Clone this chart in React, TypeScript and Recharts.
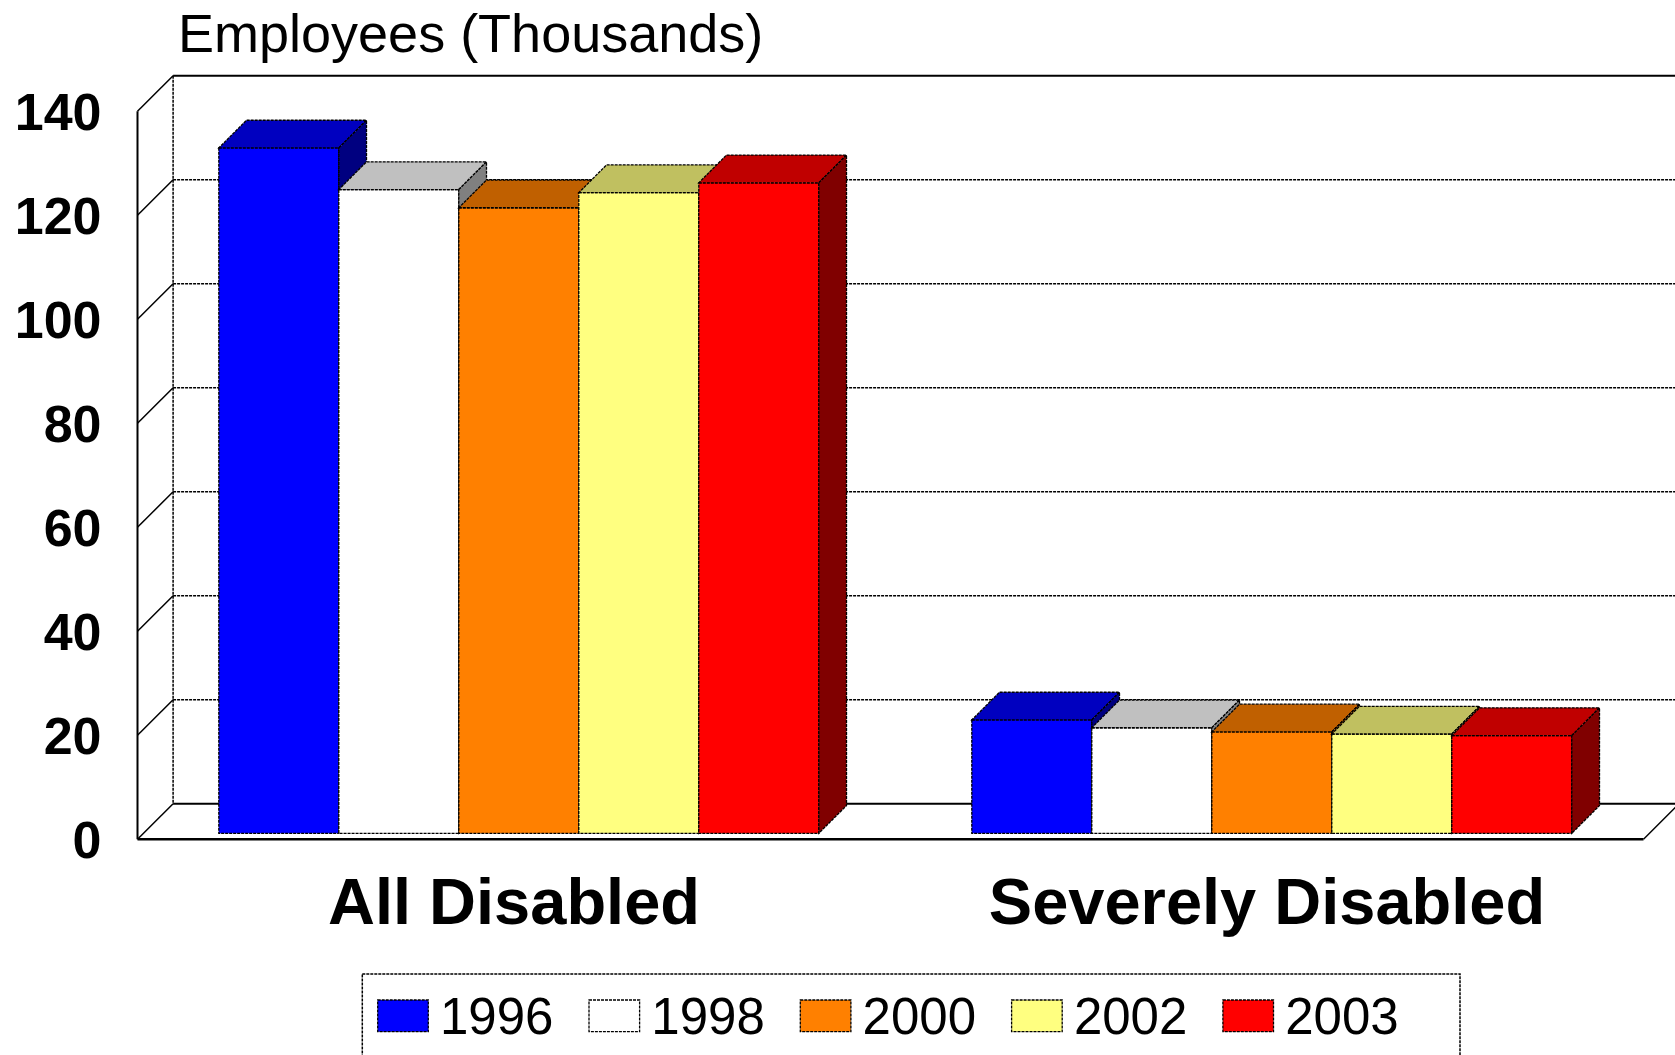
import React from 'react';
import { BarChart, Bar, XAxis, YAxis, CartesianGrid } from 'recharts';

// ---- data ----
const categories = ['All Disabled', 'Severely Disabled'];
const seriesNames = ['1996', '1998', '2000', '2002', '2003'];
const values1996 = [131.8, 21.8];
const values1998 = [123.8, 20.3];
const values2000 = [120.3, 19.5];
const values2002 = [123.2, 19.1];
const values2003 = [125.1, 18.8];
const yTicks = [0, 20, 40, 60, 80, 100, 120, 140];
const yAxisTitle = 'Employees (Thousands)';

const seriesValues = [values1996, values1998, values2000, values2002, values2003];
const seriesColors = [
  { front: '#0000FF', top: '#0000C0', side: '#000080' },
  { front: '#FFFFFF', top: '#C0C0C0', side: '#808080' },
  { front: '#FF8000', top: '#C06000', side: '#804000' },
  { front: '#FFFF80', top: '#C0C060', side: '#808040' },
  { front: '#FF0000', top: '#C00000', side: '#800000' },
];

const data = categories.map((c, i) => {
  const row: Record<string, string | number> = { category: c };
  seriesNames.forEach((s, k) => {
    row['y' + s] = seriesValues[k][i];
  });
  return row;
});

// ---- layout ----
const W = 1675;
const H = 1055;
const PLOT_LEFT = 143.5;
const PLOT_TOP = 105.3;
const PLOT_W = 1506;
const PLOT_H = 728;
const PLOT_BOTTOM = PLOT_TOP + PLOT_H;
const X_AXIS_H = 100;
const FRONT = 6; // offset of the front plane from the bars' plane
const BACK = 29.6; // offset of the back wall from the bars' plane
const BAR_DEPTH = 27.7;
const FONT = "'Liberation Sans', Arial, Helvetica, sans-serif";
const EDGE = { stroke: '#000', strokeWidth: 1.3, strokeDasharray: '3 1' };

const makeShape = (c: { front: string; top: string; side: string }) => (props: any) => {
  const { x, y, width, height } = props;
  if (x == null || y == null) return <g />;
  const d = BAR_DEPTH;
  return (
    <g>
      <rect x={x} y={y} width={width} height={height} fill={c.front} {...EDGE} />
      <polygon
        points={`${x},${y} ${x + width},${y} ${x + width + d},${y - d} ${x + d},${y - d}`}
        fill={c.top}
        {...EDGE}
      />
      <polygon
        points={`${x + width},${y} ${x + width + d},${y - d} ${x + width + d},${y + height - d} ${x + width},${y + height}`}
        fill={c.side}
        {...EDGE}
      />
    </g>
  );
};

const gridLine = (props: any) => {
  const { x1, y1, x2, index } = props;
  const yb = y1 - BACK;
  const yf = y1 + FRONT;
  const isEdge = Math.abs(y1 - PLOT_BOTTOM) < 0.5 || Math.abs(y1 - PLOT_TOP) < 0.5;
  return (
    <g key={'g' + index}>
      <line
        x1={x1 + BACK}
        y1={yb}
        x2={x2 + BACK + 40}
        y2={yb}
        stroke="#000"
        strokeWidth={isEdge ? 2 : 1.5}
        strokeDasharray={isEdge ? undefined : '3 1'}
      />
      <line x1={x1 - FRONT} y1={yf} x2={x1 + BACK} y2={yb} stroke="#000" strokeWidth={1.5} />
    </g>
  );
};

const YTick = (props: any) => {
  const { x, y, payload } = props;
  return (
    <text
      x={x}
      y={y + FRONT}
      dy="0.358em"
      textAnchor="end"
      fontFamily={FONT}
      fontWeight="bold"
      fontSize={52}
      fill="#000"
    >
      {payload.value}
    </text>
  );
};

const XTick = (props: any) => {
  const { x, y, payload } = props;
  return (
    <text
      x={x - FRONT}
      y={y + 90.7}
      textAnchor="middle"
      fontFamily={FONT}
      fontWeight="bold"
      fontSize={65}
      fill="#000"
    >
      {payload.value}
    </text>
  );
};

const Walls = () => {
  const fl = PLOT_LEFT - FRONT;
  const fb = PLOT_BOTTOM + FRONT;
  const ft = PLOT_TOP + FRONT;
  const bl = PLOT_LEFT + BACK;
  const bb = PLOT_BOTTOM - BACK;
  const bt = PLOT_TOP - BACK;
  const fr = PLOT_LEFT + PLOT_W - FRONT;
  return (
    <svg width={W} height={H} style={{ position: 'absolute', left: 0, top: 0 }}>
      <line x1={fl} y1={ft} x2={fl} y2={fb} stroke="#000" strokeWidth={2} />
      <line x1={bl} y1={bt} x2={bl} y2={bb} stroke="#000" strokeWidth={1.5} strokeDasharray="3 1" />
      <line x1={fl} y1={fb} x2={fr} y2={fb} stroke="#000" strokeWidth={2.5} />
      <line x1={fr} y1={fb} x2={fr + FRONT + BACK} y2={fb - FRONT - BACK} stroke="#000" strokeWidth={1.5} />
    </svg>
  );
};

const Overlay = () => {
  const legendLeft = 362.3;
  const legendTop = 974;
  const step = 211.3;
  return (
    <svg width={W} height={H} style={{ position: 'absolute', left: 0, top: 0, pointerEvents: 'none' }}>
      <text x={178} y={51.7} fontFamily={FONT} fontSize={54} fill="#000">
        {yAxisTitle}
      </text>
      <rect
        x={legendLeft}
        y={legendTop}
        width={1460 - legendLeft}
        height={120}
        fill="none"
        stroke="#000"
        strokeWidth={1.5}
        strokeDasharray="3 1"
      />
      {seriesNames.map((s, i) => {
        const sx = 377.7 + i * step;
        return (
          <g key={s}>
            <rect x={sx} y={1000} width={50.6} height={31.7} fill={seriesColors[i].front} {...EDGE} />
            <text x={sx + 62.3} y={1034} fontFamily={FONT} fontSize={51} fill="#000">
              {s}
            </text>
          </g>
        );
      })}
    </svg>
  );
};

export default function App() {
  return (
    <div
      style={{
        position: 'absolute',
        left: 0,
        top: 0,
        width: W,
        height: H,
        background: '#fff',
        overflow: 'hidden',
      }}
    >
      <Walls />
      <div style={{ position: 'absolute', left: 0, top: 0 }}>
        <BarChart
          width={W}
          height={H}
          data={data}
          margin={{ top: PLOT_TOP, right: W - PLOT_LEFT - PLOT_W, bottom: H - PLOT_BOTTOM - X_AXIS_H, left: 0 }}
          barCategoryGap="10%"
          barGap={0}
        >
          <CartesianGrid vertical={false} horizontal={gridLine} />
          <XAxis
            dataKey="category"
            height={X_AXIS_H}
            axisLine={false}
            tickLine={false}
            tickSize={0}
            tickMargin={0}
            interval={0}
            tick={<XTick />}
          />
          <YAxis
            width={PLOT_LEFT}
            domain={[0, 140]}
            ticks={yTicks}
            interval={0}
            axisLine={false}
            tickLine={false}
            tickSize={0}
            tickMargin={42}
            tick={<YTick />}
          />
          {seriesNames.map((s, i) => (
            <Bar
              key={s}
              dataKey={'y' + s}
              name={s}
              isAnimationActive={false}
              shape={makeShape(seriesColors[i])}
            />
          ))}
        </BarChart>
      </div>
      <Overlay />
    </div>
  );
}
